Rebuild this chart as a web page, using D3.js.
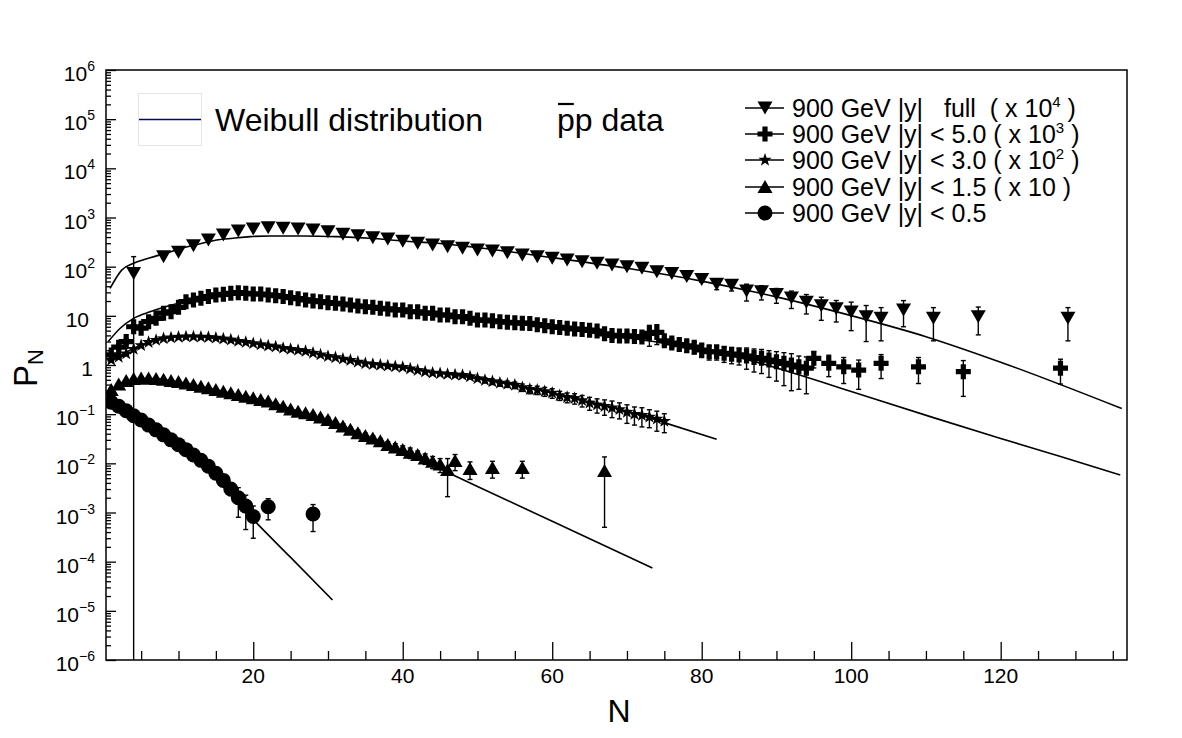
<!DOCTYPE html>
<html><head><meta charset="utf-8">
<script src="https://cdn.jsdelivr.net/npm/d3@7"></script>
<style>
body{margin:0;background:#fff}
svg{display:block;font-family:"Liberation Sans",Arial,Helvetica,sans-serif}
</style>
</head><body>
<svg id="chart" width="1182" height="738"></svg>
<script>
// ---------------- DATA (raw P_N; drawn multiplied by the legend scale factor) ----------------
// Series 1 : |y| full (x 10^4), inverted triangles
const nFull = [4,8,10,12,14,16,18,20,22,24,26,28,30,32,34,36,38,40,42,44,46,48,50,52,54,56,58,60,62,64,66,68,70,72,74,76,78,80,82,84,86,88,90,92,94,96,98,100,102,104,107,111,117,129];
const pFull = [0.0073,0.0160,0.0196,0.0267,0.0348,0.0441,0.0531,0.0583,0.0621,0.0603,0.0583,0.0557,0.0514,0.0455,0.0427,0.0388,0.0365,0.0328,0.0299,0.0276,0.0255,0.0237,0.0218,0.0208,0.0192,0.0173,0.0160,0.0148,0.0137,0.0126,0.0117,0.0108,0.0100,0.0093,0.0079,0.0073,0.0063,0.0055,0.0044,0.0042,0.0032,0.0031,0.0027,0.0023,0.0019,0.0016,0.0014,0.0012,0.00096,0.00089,0.00132,0.00089,0.00096,0.00089];
const eFull = [0.0087,0.0010,0.0010,0.0010,0.0010,0.0010,0.0010,0.0010,0.0010,0.0010,0.0010,0.0010,0.0010,0.0009,0.0009,0.0009,0.0008,0.0008,0.0008,0.0007,0.0007,0.0007,0.0007,0.0006,0.0006,0.0006,0.0006,0.0006,0.0006,0.0006,0.0006,0.0006,0.0006,0.0006,0.0006,0.0006,0.0006,0.0007,0.0010,0.0010,0.0012,0.0010,0.0009,0.00089,0.00081,0.00079,0.00065,0.0007,0.00066,0.00058,0.00072,0.00058,0.00055,0.00058];

// Series 2 : |y| < 5.0 (x 10^3), full crosses
const nY50 = [1,2,3,4,5,6,7,8,9,10,11,12,13,14,15,16,17,18,19,20,21,22,23,24,25,26,27,28,29,30,31,32,33,34,35,36,37,38,39,40,41,42,43,44,45,46,47,48,49,50,51,52,53,54,55,56,57,58,59,60,61,62,63,64,65,66,67,68,69,70,71,72,73,74,75,76,77,78,79,80,81,82,83,84,85,86,87,88,89,90,91,92,93,94,95,97,99,101,104,109,115,128];
const pY50 = [1.6e-3,2.3e-3,3.0e-3,6.0e-3,5.6e-3,7.6e-3,8.9e-3,11.3e-3,12.1e-3,14.9e-3,
  19.4e-3,21.0e-3,22.7e-3,24.6e-3,26.6e-3,27.4e-3,28.7e-3,29.6e-3,28.7e-3,27.8e-3,
  27.8e-3,26.6e-3,25.7e-3,24.6e-3,23.4e-3,22.3e-3,21.0e-3,20.0e-3,19.4e-3,18.5e-3,
  18.0e-3,17.4e-3,16.6e-3,15.8e-3,15.3e-3,14.9e-3,14.2e-3,13.8e-3,13.2e-3,13.2e-3,
  12.1e-3,12.1e-3,11.3e-3,11.3e-3,10.4e-3,10.4e-3,9.6e-3,9.6e-3,8.9e-3,8.2e-3,
  8.2e-3,7.9e-3,7.6e-3,7.4e-3,7.2e-3,7.1e-3,7.0e-3,6.6e-3,6.3e-3,6.0e-3,
  5.8e-3,5.6e-3,5.4e-3,5.3e-3,5.1e-3,4.9e-3,4.3e-3,4.0e-3,3.9e-3,3.9e-3,
  3.8e-3,3.7e-3,4.4e-3,4.6e-3,3.1e-3,2.8e-3,2.6e-3,2.45e-3,2.3e-3,2.02e-3,
  1.86e-3,1.86e-3,1.73e-3,1.66e-3,1.6e-3,1.52e-3,1.42e-3,1.37e-3,1.26e-3,1.17e-3,
  1.08e-3,1.0e-3,0.92e-3,0.86e-3,
  1.37e-3,1.08e-3,0.92e-3,0.79e-3,1.08e-3,0.92e-3,0.73e-3,0.86e-3];
const eY50 = [0.3e-3,0.3e-3,0.4e-3,0.6e-3,0.4e-3,0.4e-3,0.4e-3,0.4e-3,0.4e-3,0.5e-3,
  0.5e-3,0.5e-3,0.5e-3,0.5e-3,0.5e-3,0.5e-3,0.5e-3,0.5e-3,0.5e-3,0.5e-3,
  0.5e-3,0.5e-3,0.5e-3,0.5e-3,0.5e-3,0.5e-3,0.5e-3,0.5e-3,0.5e-3,0.5e-3,
  0.5e-3,0.5e-3,0.5e-3,0.5e-3,0.5e-3,0.5e-3,0.5e-3,0.5e-3,0.5e-3,0.5e-3,
  0.5e-3,0.5e-3,0.5e-3,0.5e-3,0.5e-3,0.5e-3,0.5e-3,0.5e-3,0.5e-3,0.5e-3,
  0.5e-3,0.5e-3,0.5e-3,0.5e-3,0.5e-3,0.5e-3,0.5e-3,0.5e-3,0.5e-3,0.5e-3,
  0.6e-3,0.6e-3,0.6e-3,0.6e-3,0.6e-3,0.6e-3,0.6e-3,0.6e-3,0.6e-3,0.6e-3,
  0.6e-3,0.6e-3,2.0e-3,2.0e-3,0.6e-3,0.6e-3,0.6e-3,0.6e-3,0.6e-3,0.6e-3,
  0.6e-3,0.6e-3,0.6e-3,0.6e-3,0.6e-3,0.7e-3,0.7e-3,0.7e-3,0.7e-3,0.7e-3,
  0.7e-3,0.7e-3,0.6e-3,0.6e-3,
  0.5e-3,0.5e-3,0.5e-3,0.47e-3,0.55e-3,0.5e-3,0.5e-3,0.45e-3];

// Series 3 : |y| < 3.0 (x 10^2), stars
const nY30 = [1,2,3,4,5,6,7,8,9,10,11,12,13,14,15,16,17,18,19,20,21,22,23,24,25,26,27,28,29,30,31,32,33,34,35,36,37,38,39,40,41,42,43,44,45,46,47,48,49,50,51,52,53,54,55,56,57,58,59,60,61,62,63,64,65,66,67,68,69,70,71,72,73,74,75];
const pY30 = [1.26e-2,1.45e-2,1.7e-2,2.1e-2,2.5e-2,2.9e-2,3.2e-2,3.45e-2,3.6e-2,3.7e-2,
  3.77e-2,3.77e-2,3.72e-2,3.66e-2,3.55e-2,3.4e-2,3.25e-2,3.05e-2,2.9e-2,2.75e-2,
  2.6e-2,2.45e-2,2.35e-2,2.2e-2,2.1e-2,2.0e-2,1.9e-2,1.75e-2,1.62e-2,1.5e-2,
  1.42e-2,1.33e-2,1.25e-2,1.15e-2,1.07e-2,1.03e-2,1.0e-2,0.96e-2,0.93e-2,0.9e-2,
  0.84e-2,0.78e-2,0.73e-2,0.69e-2,0.67e-2,0.65e-2,0.63e-2,0.62e-2,0.58e-2,0.53e-2,
  0.49e-2,0.46e-2,0.43e-2,0.41e-2,0.39e-2,0.35e-2,0.32e-2,0.31e-2,0.29e-2,0.27e-2,
  0.24e-2,0.22e-2,0.21e-2,0.19e-2,0.17e-2,0.155e-2,0.145e-2,0.135e-2,0.125e-2,0.11e-2,
  0.10e-2,0.095e-2,0.088e-2,0.08e-2,0.072e-2];
const eY30 = [0.05e-2,0.05e-2,0.05e-2,0.05e-2,0.05e-2,0.05e-2,0.05e-2,0.05e-2,0.05e-2,0.05e-2,
  0.05e-2,0.05e-2,0.05e-2,0.05e-2,0.05e-2,0.05e-2,0.05e-2,0.05e-2,0.05e-2,0.05e-2,
  0.05e-2,0.05e-2,0.05e-2,0.05e-2,0.05e-2,0.05e-2,0.05e-2,0.05e-2,0.05e-2,0.05e-2,
  0.05e-2,0.05e-2,0.05e-2,0.05e-2,0.05e-2,0.05e-2,0.05e-2,0.05e-2,0.05e-2,0.05e-2,
  0.05e-2,0.05e-2,0.05e-2,0.05e-2,0.05e-2,0.05e-2,0.05e-2,0.05e-2,0.05e-2,0.05e-2,
  0.06e-2,0.06e-2,0.06e-2,0.06e-2,0.06e-2,0.06e-2,0.06e-2,0.06e-2,0.06e-2,0.06e-2,
  0.05e-2,0.05e-2,0.05e-2,0.05e-2,0.05e-2,0.05e-2,0.05e-2,0.05e-2,0.045e-2,0.045e-2,
  0.04e-2,0.04e-2,0.035e-2,0.035e-2,0.03e-2];

// Series 4 : |y| < 1.5 (x 10), triangles
const nY15 = [1,2,3,4,5,6,7,8,9,10,11,12,13,14,15,16,17,18,19,20,21,22,23,24,25,26,27,28,29,30,31,32,33,34,35,36,37,38,39,40,41,42,43,44,45,46,47,49,52,56,67];
const pY15 = [0.031,0.040,0.047,0.052,0.053,0.053,0.052,0.050,0.047,0.045,
  0.042,0.039,0.036,0.0336,0.031,0.0286,0.0265,0.0245,0.0225,0.021,
  0.0195,0.018,0.016,0.0142,0.0125,0.0112,0.0104,0.0096,0.0086,0.0076,
  0.0066,0.0056,0.0048,0.0041,0.0036,0.0032,0.0028,0.00236,0.0021,0.00187,
  0.00165,0.00148,0.00125,0.00108,0.00095,0.00073,
  0.00111,0.00077,0.00080,0.00080,0.00070];
const eY15 = [0.001,0.001,0.001,0.001,0.001,0.001,0.001,0.001,0.001,0.001,
  0.001,0.001,0.001,0.001,0.001,0.001,0.001,0.001,0.001,0.001,
  0.001,0.001,0.001,0.001,0.001,0.001,0.001,0.001,0.001,0.001,
  0.0008,0.0008,0.0006,0.0006,0.0005,0.0004,0.0004,0.0004,0.0004,0.0004,
  0.0004,0.0003,0.0003,0.0003,0.0003,0.00052,
  0.0004,0.0003,0.0003,0.0003,0.00065];

// Series 5 : |y| < 0.5, circles
const nY05 = [1,2,3,4,5,6,7,8,9,10,11,12,13,14,15,16,17,18,19,20,22,28];
const pY05 = [0.174,0.145,0.117,0.093,0.076,0.060,0.048,0.038,0.030,0.024,0.019,0.0148,0.0115,0.0087,0.0063,0.0045,0.0030,0.0020,0.00135,0.00083,0.00131,0.00093];
const eY05 = [0.004,0.004,0.003,0.003,0.003,0.002,0.002,0.002,0.0015,0.0015,0.0012,0.001,0.001,0.0008,0.0008,0.0008,0.0008,0.0012,0.0009,0.00053,0.0006,0.00052];

// Weibull curves, raw P_N
const wFullN = [0.84,2.4,4,6.2,8.4,10.6,12.9,15.1,17.3,19.6,22.2,26.7,31.2,35.6,40.1,44.6,49,60,70,80,90,100,110,120,136.2];
const wFullP = [3.6e-3,8.5e-3,1.17e-2,1.52e-2,1.9e-2,2.4e-2,2.92e-2,3.49e-2,3.78e-2,4.08e-2,4.21e-2,4.21e-2,4.08e-2,3.78e-2,3.33e-2,2.99e-2,2.55e-2,1.53e-2,9.25e-3,5.08e-3,2.43e-3,1.01e-3,3.77e-4,1.14e-4,1.3e-5];
const wY50N = [0.6,2.2,4,6.2,10,14,18,22,26,30,35,40,45,50,55,60,65,70,75,80,86,93.2,100,111,120,128,136];
const wY50P = [3.0e-3,5.6e-3,8.9e-3,12.1e-3,18e-3,24e-3,27e-3,27e-3,24.5e-3,20.5e-3,16.5e-3,13.2e-3,10.6e-3,8.5e-3,7.0e-3,5.7e-3,4.6e-3,3.6e-3,2.8e-3,2.05e-3,1.3e-3,0.62e-3,0.29e-3,0.085e-3,0.032e-3,0.0138e-3,0.0058e-3];
const wY30N = [0.5,2,4,6,8,10,12,14,16,18,20,24,28,32,36,40,45,50,55,60,65,70,75.3,82];
const wY30P = [1.2e-2,1.5e-2,2.2e-2,2.9e-2,3.4e-2,3.7e-2,3.75e-2,3.6e-2,3.35e-2,3.05e-2,2.75e-2,2.2e-2,1.75e-2,1.35e-2,1.05e-2,0.88e-2,0.68e-2,0.53e-2,0.39e-2,0.27e-2,0.175e-2,0.115e-2,0.065e-2,0.0308e-2];
const wY15N = [0.3,1,2,4,6,8,10,14,18,22,26,30,34,38,42,46.3,50,60,73.4];
const wY15P = [0.020,0.030,0.040,0.050,0.053,0.050,0.045,0.034,0.0245,0.018,0.0115,0.0075,0.0042,0.0024,0.00125,0.00062,0.000339,0.0000662,0.0000074];
const wY05N = [0.3,1,4,8,12,16,20.5,25,30.6];
const wY05P = [0.2,0.175,0.093,0.038,0.0148,0.0033,6.0e-4,1.22e-4,1.66e-5];

// Legend / axis texts
const seriesScale = [1e4,1e3,1e2,10,1];
const legendMain = ["900 GeV |y|   full  ( x 10","900 GeV |y| < 5.0 ( x 10","900 GeV |y| < 3.0 ( x 10","900 GeV |y| < 1.5 ( x 10 )","900 GeV |y| < 0.5"];
const legendSup  = ["4","3","2","",""];
const legendTail = [" )"," )"," )","",""];
const xTicks = [20,40,60,80,100,120];
const yTicks = [1e-6,1e-5,1e-4,1e-3,1e-2,1e-1,1,10,1e2,1e3,1e4,1e5,1e6];
const yTickBase = ["10","10","10","10","10","10","1","10","10","10","10","10","10"];
const yTickSup  = ["\u22126","\u22125","\u22124","\u22123","\u22122","\u22121","","","2","3","4","5","6"];

// ---------------- DRAWING ----------------
const svg = d3.select("#chart");
svg.append("rect").attr("width",1182).attr("height",738).attr("fill","#fff");
const L=106,R=1127,T=70,B=660;
const x = d3.scaleLinear().domain([0.3,136.9]).range([L,R]);
const y = d3.scaleLog().domain([1e-6,1e6]).range([B,T]);

svg.append("clipPath").attr("id","clip").append("rect").attr("x",L).attr("y",T).attr("width",R-L).attr("height",B-T);
const plot = svg.append("g").attr("clip-path","url(#clip)");

// axes ticks
const gx = svg.append("g").attr("transform",`translate(0,${B})`);
gx.call(d3.axisTop(x).tickValues(d3.range(5,137,5).filter(v=>v%20!==0)).tickSize(9).tickFormat(""));
gx.select(".domain").remove();
const gx2 = svg.append("g").attr("transform",`translate(0,${B})`);
gx2.call(d3.axisTop(x).tickValues(xTicks).tickSize(18).tickFormat(""));
gx2.select(".domain").remove();
svg.append("g").selectAll("text").data(xTicks).join("text")
  .attr("x",d=>x(d)).attr("y",683).attr("text-anchor","middle").attr("font-size",21).text(d=>d);

// y minor ticks
const yMinor=[];
for(let e=-6;e<6;e++) for(let m=2;m<=9;m++) yMinor.push(m*Math.pow(10,e));
const gy = svg.append("g").attr("transform",`translate(${L},0)`);
gy.call(d3.axisRight(y).tickValues(yMinor).tickSize(5).tickFormat(""));
gy.select(".domain").remove();
const gy2 = svg.append("g").attr("transform",`translate(${L},0)`);
gy2.call(d3.axisRight(y).tickValues(yTicks).tickSize(10).tickFormat(""));
gy2.select(".domain").remove();
svg.selectAll(".tick line").attr("stroke","#000").attr("stroke-width",1.3);

const yLabels = yTicks.map((v,i)=>({v, base:yTickBase[i], sup:yTickSup[i]}));
const yl = svg.append("g").selectAll("text").data(yLabels).join("text")
  .attr("x",d=> d.sup==="" ? (d.base==="10"?89:93) : 95)
  .attr("y",d=>y(d.v)+11).attr("text-anchor","end").attr("font-size",21);
yl.append("tspan").text(d=>d.base);
yl.filter(d=>d.sup!=="").append("tspan").attr("dy",-10).attr("font-size",14).text(d=>d.sup);

// axis titles
svg.append("text").attr("x",619).attr("y",722).attr("text-anchor","middle").attr("font-size",32).text("N");
const yt = svg.append("text").attr("transform","translate(37,368) rotate(-90)").attr("text-anchor","middle").attr("font-size",33);
yt.append("tspan").text("P");
yt.append("tspan").attr("dy",6).attr("font-size",22).text("N");

// curves
const line = (s)=>d3.line().x(d=>x(d[0])).y(d=>y(d[1]*s)).curve(d3.curveMonotoneX);
const curves = [[wFullN,wFullP],[wY50N,wY50P],[wY30N,wY30P],[wY15N,wY15P],[wY05N,wY05P]];
curves.forEach((c,i)=>{
  plot.append("path").datum(c[0].map((n,j)=>[n,c[1][j]]))
    .attr("d",line(seriesScale[i])).attr("fill","none").attr("stroke","#000").attr("stroke-width",1.6);
});

// markers
function starPath(Ro,ri){const p=[];for(let i=0;i<10;i++){const a=-Math.PI/2+i*Math.PI/5;const r=i%2?ri:Ro;p.push([(r*Math.cos(a)).toFixed(2),(r*Math.sin(a)).toFixed(2)]);}return "M"+p.join("L")+"Z";}
const a=7.5,t=2.6;
const shapes = [
  "M-7.5,-6.5L7.5,-6.5L0,6.5Z",
  `M${-t},${-a}L${t},${-a}L${t},${-t}L${a},${-t}L${a},${t}L${t},${t}L${t},${a}L${-t},${a}L${-t},${t}L${-a},${t}L${-a},${-t}L${-t},${-t}Z`,
  starPath(7,2.8),
  "M-7.5,6L7.5,6L0,-7Z",
  "M-7.5,0A7.5,7.5 0 1,0 7.5,0A7.5,7.5 0 1,0 -7.5,0Z"
];
const series = [[nFull,pFull,eFull],[nY50,pY50,eY50],[nY30,pY30,eY30],[nY15,pY15,eY15],[nY05,pY05,eY05]];
series.forEach((s,i)=>{
  const sc = seriesScale[i];
  const pts = s[0].map((n,j)=>({n, v:s[1][j]*sc, e:s[2][j]*sc}));
  const g = plot.append("g");
  pts.forEach(p=>{
    const px = x(p.n);
    const yh = y(p.v+p.e);
    const lo = p.v-p.e;
    const yb = lo>0 ? y(lo) : B+5;
    g.append("line").attr("x1",px).attr("x2",px).attr("y1",yh).attr("y2",yb).attr("stroke","#000").attr("stroke-width",1.4);
    g.append("line").attr("x1",px-2.5).attr("x2",px+2.5).attr("y1",yh).attr("y2",yh).attr("stroke","#000").attr("stroke-width",1.4);
    if(lo>0) g.append("line").attr("x1",px-2.5).attr("x2",px+2.5).attr("y1",yb).attr("y2",yb).attr("stroke","#000").attr("stroke-width",1.4);
  });
  g.selectAll("path").data(pts).join("path")
    .attr("transform",p=>`translate(${x(p.n)},${y(p.v)})`).attr("d",shapes[i]).attr("fill","#000");
});

// frame
svg.append("rect").attr("x",L).attr("y",T).attr("width",R-L).attr("height",B-T)
  .attr("fill","none").attr("stroke","#000").attr("stroke-width",1.5);

// left legend
svg.append("rect").attr("x",138.5).attr("y",93.5).attr("width",63).attr("height",52).attr("fill","#fff").attr("stroke","#e4e4e4").attr("stroke-width",1);
svg.append("line").attr("x1",139).attr("x2",201).attr("y1",119.5).attr("y2",119.5).attr("stroke","#000080").attr("stroke-width",1.5);
svg.append("text").attr("x",215).attr("y",131).attr("font-size",32).text("Weibull distribution");
const pp = svg.append("text").attr("x",557).attr("y",131).attr("font-size",32).text("pp data");
const pw = pp.node().getSubStringLength(0,1);
svg.append("line").attr("x1",558).attr("x2",557+pw-1).attr("y1",104).attr("y2",104).attr("stroke","#000").attr("stroke-width",2.2);

// right legend
const lg = svg.append("g");
const rowY = [108,134,160,187,213];
rowY.forEach((ry,i)=>{
  lg.append("line").attr("x1",745).attr("x2",784).attr("y1",ry).attr("y2",ry).attr("stroke","#000").attr("stroke-width",1.5);
  lg.append("path").attr("transform",`translate(765,${ry})`).attr("d",shapes[i]).attr("fill","#000");
  const tx = lg.append("text").attr("x",792).attr("y",ry+8.5).attr("font-size",25).attr("xml:space","preserve").style("white-space","pre");
  tx.append("tspan").text(legendMain[i]);
  if(legendSup[i]) tx.append("tspan").attr("dy",-10).attr("font-size",15).text(legendSup[i]);
  if(legendTail[i]) tx.append("tspan").attr("dy",10).text(legendTail[i]);
});
</script>
</body></html>
